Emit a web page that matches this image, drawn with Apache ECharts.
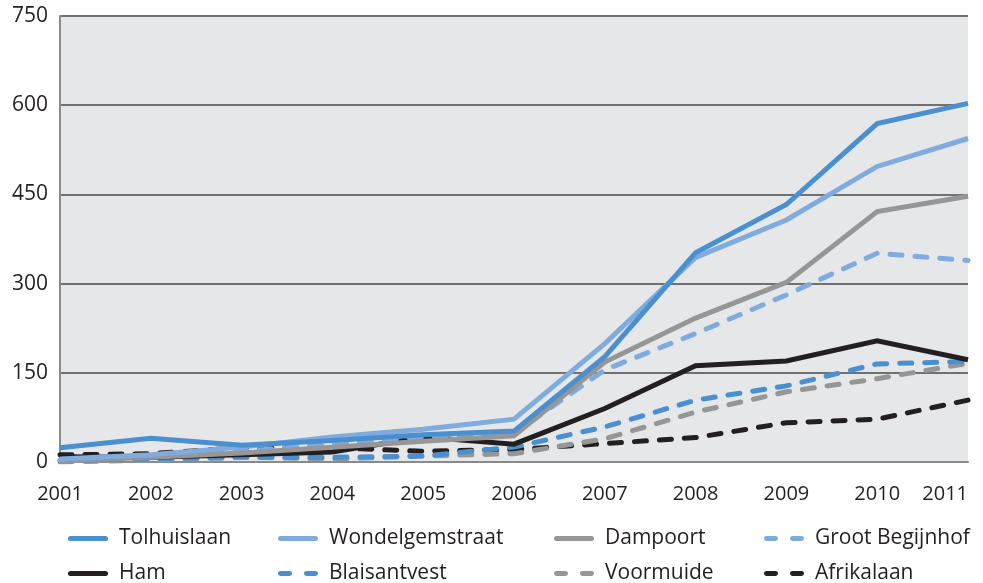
<!DOCTYPE html>
<html>
<head>
<meta charset="utf-8">
<script src="https://cdn.jsdelivr.net/npm/echarts@6/dist/echarts.min.js"></script>
<style>
  html, body { margin: 0; padding: 0; background: #fff; }
  #chart { width: 983px; height: 583px; }
</style>
</head>
<body>
<div id="chart"></div>
<script>
// jaren
const years = ['2001', '2002', '2003', '2004', '2005', '2006', '2007', '2008', '2009', '2010', '2011'];

// waarden per straat/wijk
const tolhuislaan = [24, 40, 28, 36, 46, 52, 177, 352, 433, 569, 603];
const wondelgemstraat = [5, 12, 25, 42, 55, 72, 199, 344, 407, 497, 544];
const dampoort = [2, 8, 15, 25, 35, 44, 168, 242, 302, 421, 447];
const grootBegijnhof = [3, 10, 18, 30, 42, 48, 155, 216, 281, 351, 339];
const ham = [9, 8, 12, 17, 42, 30, 90, 162, 170, 204, 172];
const blaisantvest = [2, 5, 8, 8, 10, 25, 59, 104, 128, 165, 169];
const voormuide = [0, 3, 8, 5, 10, 14, 39, 84, 118, 140, 166];
const afrikalaan = [12, 14, 24, 24, 18, 21, 31, 41, 66, 72, 104];

const yTicks = [0, 150, 300, 450, 600, 750];

const BLUE = '#4a8fd0';
const LIGHTBLUE = '#80abde';
const GREY = '#969696';
const BLACK = '#231f20';

// legend icons: een volle streep of twee korte streepjes
const SOLID_ICON = 'path://M2.5,0h35a2.5,2.5 0 0 1 0,5h-35a2.5,2.5 0 0 1 0,-5z';
const DASH_ICON = 'path://M2.5,0h9a2.5,2.5 0 0 1 0,5h-9a2.5,2.5 0 0 1 0,-5z M28.5,0h9a2.5,2.5 0 0 1 0,5h-9a2.5,2.5 0 0 1 0,-5z M0,0h0.01v5h-0.01z M40,0h0.01v5h-0.01z';

function mkLine(name, data, color, dashed, z) {
  return {
    name: name,
    type: 'line',
    data: data,
    z: z,
    symbol: 'none',
    smooth: false,
    lineStyle: {
      width: 5,
      color: color,
      type: dashed ? [12, 13] : 'solid',
      cap: dashed ? 'round' : 'butt',
      join: 'miter'
    },
    itemStyle: { color: color }
  };
}

const font = '"Open Sans", "Noto Sans", sans-serif';

function mkLegend(left, items) {
  return {
    orient: 'vertical',
    left: left,
    top: 523,
    height: 100,
    itemWidth: 40,
    itemHeight: 5,
    itemGap: 14,
    selectedMode: false,
    data: items.map(function (it) {
      return { name: it[0], icon: it[1] ? DASH_ICON : SOLID_ICON };
    }),
    textStyle: {
      color: BLACK,
      fontSize: 21,
      fontFamily: font,
      padding: [0, 0, 0, 6]
    }
  };
}

const chart = echarts.init(document.getElementById('chart'));
chart.setOption({
  animation: false,
  backgroundColor: '#fff',
  grid: {
    left: 60,
    right: 15,
    top: 16,
    bottom: 121,
    outerBoundsMode: 'none',
    show: true,
    backgroundColor: '#e6e7e9',
    borderWidth: 0
  },
  legend: [
    mkLegend(63, [['Tolhuislaan', false], ['Ham', false]]),
    mkLegend(273, [['Wondelgemstraat', false], ['Blaisantvest', true]]),
    mkLegend(549, [['Dampoort', false], ['Voormuide', true]]),
    mkLegend(759, [['Groot Begijnhof', true], ['Afrikalaan', true]])
  ],
  xAxis: {
    type: 'category',
    boundaryGap: false,
    data: years,
    axisLine: { show: true, lineStyle: { color: '#8a8a8a', width: 2 } },
    axisTick: { show: false },
    axisLabel: {
      color: BLACK,
      fontSize: 20,
      fontFamily: font,
      margin: 22,
      interval: 0,
      alignMaxLabel: 'right'
    }
  },
  yAxis: {
    type: 'value',
    min: yTicks[0],
    max: yTicks[yTicks.length - 1],
    interval: 150,
    axisLine: { show: true, lineStyle: { color: '#8a8a8a', width: 2 } },
    axisTick: { show: false },
    axisLabel: {
      color: BLACK,
      fontSize: 21,
      fontFamily: font,
      margin: 12
    },
    splitLine: { show: true, lineStyle: { color: '#707070', width: 2 } }
  },
  series: [
    mkLine('Afrikalaan', afrikalaan, BLACK, true, 2),
    mkLine('Voormuide', voormuide, GREY, true, 3),
    mkLine('Blaisantvest', blaisantvest, BLUE, true, 4),
    mkLine('Ham', ham, BLACK, false, 5),
    mkLine('Groot Begijnhof', grootBegijnhof, LIGHTBLUE, true, 6),
    mkLine('Dampoort', dampoort, GREY, false, 7),
    mkLine('Wondelgemstraat', wondelgemstraat, LIGHTBLUE, false, 8),
    mkLine('Tolhuislaan', tolhuislaan, BLUE, false, 9)
  ]
});
</script>
</body>
</html>
